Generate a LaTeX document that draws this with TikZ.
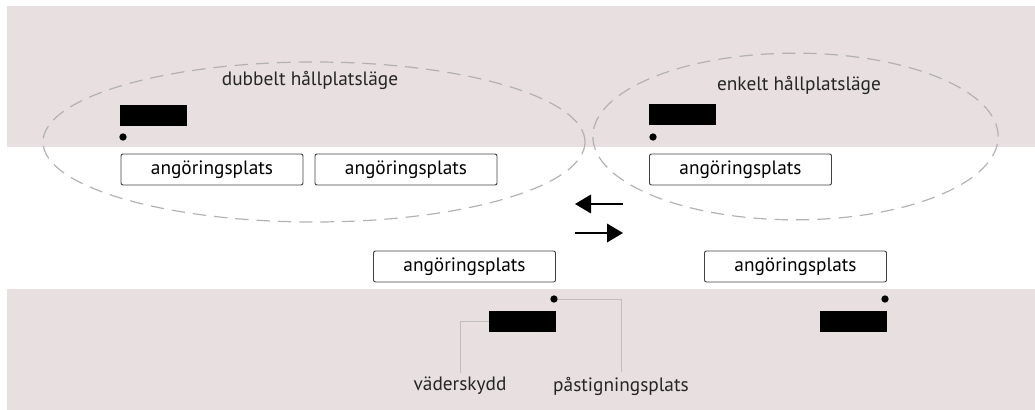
\documentclass[tikz,border=0pt]{standalone}
\usepackage{fontspec}
\setmainfont{PT Sans}
\usetikzlibrary{arrows.meta}
\usetikzlibrary{calc, positioning}

\definecolor{gatuyta}{RGB}{231,223,224}
\definecolor{streck}{RGB}{178,178,178}
\definecolor{ledning}{RGB}{190,190,190}

\begin{document}
\begin{tikzpicture}[x=0.75pt, y=-0.75pt,
  plats/.style={draw=black!75, rounded corners=1.5pt, line width=0.7pt,
    minimum width=136.5pt, minimum height=23.25pt, inner sep=0pt,
    font=\fontsize{14.5}{16}\selectfont},
  skydd/.style={fill=black, minimum width=50.25pt, minimum height=15.75pt, inner sep=0pt},
  punkt/.style={circle, fill=black, minimum size=5.5pt, inner sep=0pt},
  lage/.style={draw=streck, dash pattern=on 10pt off 6pt, line width=0.9pt},
  ledare/.style={draw=ledning, line width=0.6pt},
  etikett/.style={font=\fontsize{14.5}{16}\selectfont, text=black!85},
  pil/.style={line width=1pt, -{Triangle[length=12pt, width=14pt]}},
  ]

  \useasboundingbox (0,0) rectangle (1035,410);

  % gatuytor
  \fill[gatuyta] (7,6) rectangle (1035,147);
  \fill[gatuyta] (7,289) rectangle (1035,410);

  % hallplatslagen
  \draw[lage] (314,142) ellipse [x radius=203.25pt, y radius=60pt];
  \draw[lage] (795.5,136.5) ellipse [x radius=152pt, y radius=62.5pt];

  \node[etikett] (dubbelt) at (310,80) {dubbelt hållplatsläge};
  \node[etikett] (enkelt)  at (799,85) {enkelt hållplatsläge};

  % overst, vanster
  \node[skydd] (skydd-1) at (153.5,115.5) {};
  \node[punkt] (punkt-1) at (123,137) {};
  \node[plats] (plats-1) at (212,169.5) {angöringsplats};
  \node[plats] (plats-2) at (406,169.5) {angöringsplats};

  % overst, hoger
  \node[skydd] (skydd-2) at (682.5,114.5) {};
  \node[punkt] (punkt-2) at (653,137) {};
  \node[plats] (plats-3) at (740.5,169.5) {angöringsplats};

  % korriktningar
  \coordinate (pil-1-start) at (623,204);
  \coordinate (pil-1-slut)  at (575,204);
  \coordinate (pil-2-start) at (575,233);
  \coordinate (pil-2-slut)  at (623,233);
  \draw[pil] (pil-1-start) to (pil-1-slut);
  \draw[pil] (pil-2-start) to (pil-2-slut);

  % nederst
  \node[plats] (plats-4) at (464.5,266.5) {angöringsplats};
  \node[plats] (plats-5) at (795.5,266.5) {angöringsplats};

  \node[skydd] (skydd-3) at (522.5,321) {};
  \node[punkt] (punkt-3) at (554,299) {};
  \node[skydd] (skydd-4) at (853.5,321) {};
  \node[punkt] (punkt-4) at (885,299) {};

  % forklaringar
  \node[etikett] (vaderskydd) at (460,386) {väderskydd};
  \node[etikett] (pastigning) at (621,386) {påstigningsplats};

  \draw[ledare] (skydd-3.west) to (vaderskydd.north |- skydd-3.west) to (vaderskydd.north);
  % \draw[red] (vaderskydd.north) circle[radius=1pt];
  \draw[ledare] (punkt-3.east) to (pastigning.north |- punkt-3.east) to (pastigning.north);

\end{tikzpicture}
\end{document}
